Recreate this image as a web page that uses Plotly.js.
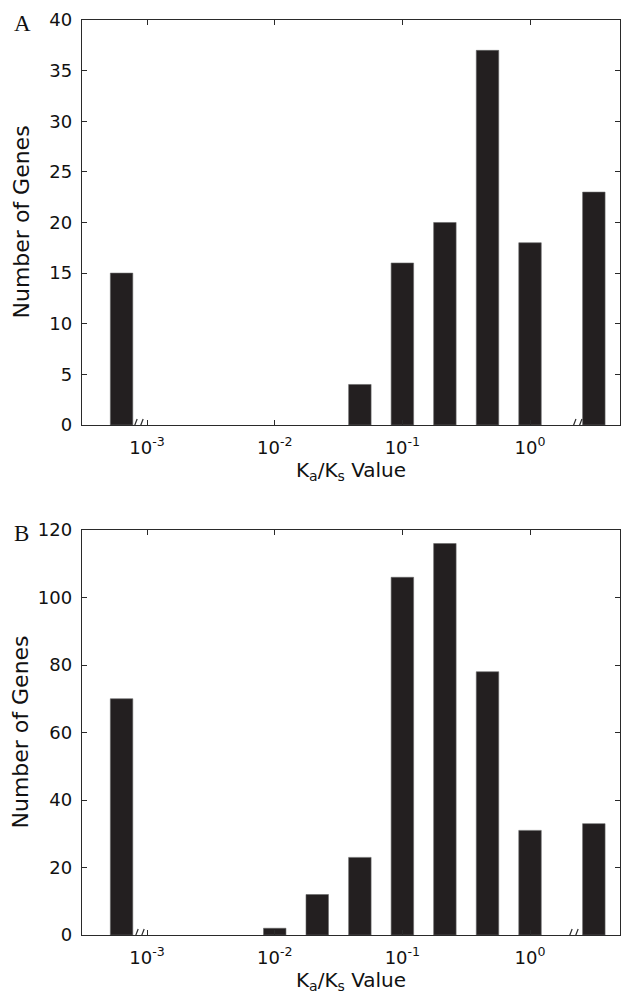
<!DOCTYPE html>
<html>
<head>
<meta charset="utf-8">
<script src="https://cdn.plot.ly/plotly-3.0.1.min.js"></script>
<style>
  html, body { margin: 0; padding: 0; background: #fff; }
  #chart { width: 623px; height: 1001px; }
</style>
</head>
<body>
<div id="chart"></div>
<script>
// Bin centres on a log10 scale (first = zero bin drawn left of the break, last = overflow bin right of the break)
const binsA = [-3.2, -1.333, -1.0, -0.667, -0.333, 0.0, 0.5];
const countsA = [15, 4, 16, 20, 37, 18, 23];

const binsB = [-3.2, -2.0, -1.667, -1.333, -1.0, -0.667, -0.333, 0.0, 0.5];
const countsB = [70, 2, 12, 23, 106, 116, 78, 31, 33];

const tickPos = [-3, -2, -1, 0];
const tickText = ['10<sup>-3</sup>', '10<sup>-2</sup>', '10<sup>-1</sup>', '10<sup>0</sup>'];

const breaksA = [-3.078, 0.36];
const breaksB = [-3.07, 0.33];

const barColor = '#231f20';
const axisColor = '#2a2a2a';
const barWidth = 0.176;
const FONT = 'DejaVu Sans, Liberation Sans, Arial, sans-serif';

function bars(x, y, xa, ya) {
  return {
    type: 'bar', x: x, y: y, xaxis: xa, yaxis: ya,
    width: x.map(() => barWidth),
    marker: { color: barColor, line: { color: '#666', width: 0.6 } },
    hoverinfo: 'x+y', showlegend: false
  };
}

const xCommon = {
  range: [-3.51, 0.705], tickmode: 'array', tickvals: tickPos, ticktext: tickText,
  ticks: 'inside', ticklen: 5, tickwidth: 1, tickcolor: axisColor,
  showline: true, linecolor: axisColor, linewidth: 1.3, mirror: 'ticks',
  showgrid: false, zeroline: false, ticklabelstandoff: 6,
  tickfont: { family: FONT, size: 18, color: '#111' },
  title: { text: 'K<sub>a</sub>/K<sub>s</sub> Value', standoff: 5,
           font: { family: FONT, size: 20, color: '#111' } }
};

function yAxis(range, dtick, domain, anchor) {
  return {
    range: range, dtick: dtick, domain: domain, anchor: anchor,
    ticks: 'inside', ticklen: 5, tickwidth: 1, tickcolor: axisColor,
    showline: true, linecolor: axisColor, linewidth: 1.3, mirror: 'ticks',
    showgrid: false, zeroline: false, ticklabelstandoff: 5,
    tickfont: { family: FONT, size: 18, color: '#111' }
  };
}

function breakShapes(positions, xa, ya) {
  const out = [];
  positions.forEach(p => {
    [-3, 3].forEach(off => {
      out.push({
        type: 'line', xref: xa, yref: ya,
        xsizemode: 'pixel', xanchor: p, x0: off - 3.5, x1: off + 3,
        ysizemode: 'pixel', yanchor: 0, y0: -11, y1: 6,
        line: { color: axisColor, width: 1.2 }
      });
    });
  });
  return out;
}

function yTitle(ydom) {
  return {
    text: 'Number of Genes', textangle: -90,
    xref: 'paper', yref: 'paper', x: 0, y: (ydom[0] + ydom[1]) / 2,
    xanchor: 'center', yanchor: 'middle', xshift: -61,
    showarrow: false, font: { family: FONT, size: 22, color: '#111' }
  };
}

const domA = [0.5574, 1];
const domB = [0, 0.4426];

const data = [
  bars(binsA, countsA, 'x', 'y'),
  bars(binsB, countsB, 'x2', 'y2')
];

const layout = {
  width: 623, height: 1001,
  margin: { l: 82, r: 3, t: 20, b: 66 },
  paper_bgcolor: '#fff', plot_bgcolor: '#fff',
  bargap: 0,
  xaxis: Object.assign({}, xCommon, { anchor: 'y' }),
  yaxis: yAxis([0, 40], 5, domA, 'x'),
  xaxis2: Object.assign({}, xCommon, { anchor: 'y2' }),
  yaxis2: yAxis([0, 120], 20, domB, 'x2'),
  shapes: breakShapes(breaksA, 'x', 'y').concat(breakShapes(breaksB, 'x2', 'y2')),
  annotations: [
    yTitle(domA), yTitle(domB),
    { text: 'A', xref: 'paper', yref: 'paper', x: 0, y: 1.0, xanchor: 'left', yanchor: 'middle',
      xshift: -70, yshift: -3,
      showarrow: false, font: { family: 'Liberation Serif, Times New Roman, serif', size: 23, color: '#111' } },
    { text: 'B', xref: 'paper', yref: 'paper', x: 0, y: domB[1], xanchor: 'left', yanchor: 'middle',
      xshift: -70, yshift: -3,
      showarrow: false, font: { family: 'Liberation Serif, Times New Roman, serif', size: 23, color: '#111' } }
  ]
};

Plotly.newPlot('chart', data, layout, { displayModeBar: false, staticPlot: true });
</script>
</body>
</html>
